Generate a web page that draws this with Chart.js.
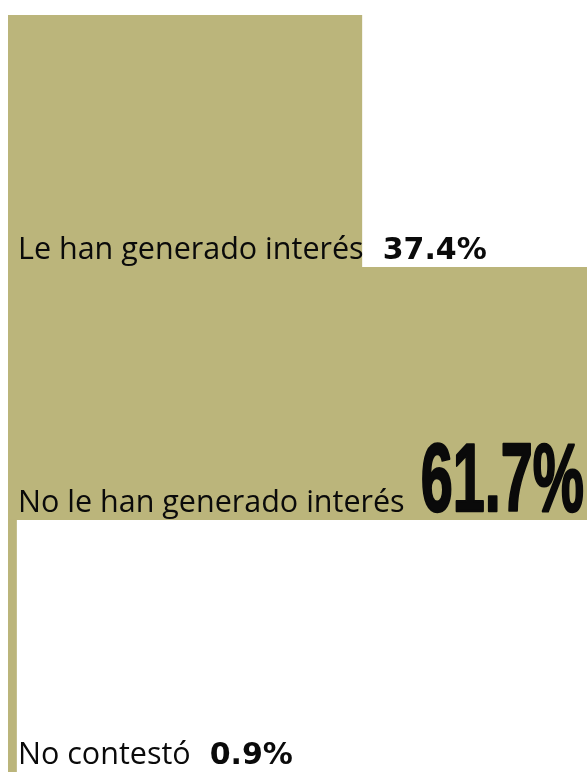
<!DOCTYPE html>
<html>
<head>
<meta charset="utf-8">
<script src="https://cdn.jsdelivr.net/npm/chart.js@4/dist/chart.umd.min.js"></script>
<style>
  html, body { margin: 0; padding: 0; background: #fff; }
  #wrap { width: 587px; height: 772px; }
</style>
</head>
<body>
<div id="wrap"><canvas id="c" width="587" height="772"></canvas></div>
<script>
const categories = ["Le han generado interés", "No le han generado interés", "No contestó"];
const values = [37.4, 61.7, 0.9];
const valueLabels = ["37.4%", "61.7%", "0.9%"];

const OLIVE = "#bbb57b";

const labelPlugin = {
  id: "barLabels",
  afterDatasetsDraw(chart) {
    const ctx = chart.ctx;
    const meta = chart.getDatasetMeta(0);
    const top = Math.max(...values);
    ctx.save();
    ctx.fillStyle = "#0a0a0a";
    ctx.strokeStyle = "#0a0a0a";
    ctx.textBaseline = "alphabetic";
    meta.data.forEach((bar, i) => {
      const bottom = bar.y + bar.height / 2;
      const base = bottom - 8;
      const x0 = chart.chartArea.left + 10;
      ctx.font = "30.5px 'Open Sans'";
      ctx.fillText(categories[i], x0, base);
      const w = ctx.measureText(categories[i]).width;
      const vx = x0 + w + 19;
      if (values[i] === top) {
        ctx.save();
        ctx.translate(vx - 3, base - 1);
        ctx.scale(0.6, 1);
        ctx.font = "bold 96px 'Liberation Sans'";
        ctx.lineWidth = 2.5;
        ctx.lineJoin = "round";
        ctx.fillText(valueLabels[i], 0, 0);
        ctx.strokeText(valueLabels[i], 0, 0);
        ctx.restore();
      } else {
        ctx.font = "bold 30px 'DejaVu Sans'";
        ctx.fillText(valueLabels[i], vx, base);
      }
    });
    ctx.restore();
  },
};

new Chart(document.getElementById("c"), {
  type: "bar",
  data: {
    labels: categories,
    datasets: [
      {
        data: values,
        backgroundColor: OLIVE,
        borderWidth: 0,
        categoryPercentage: 1,
        barPercentage: 1,
      },
    ],
  },
  options: {
    indexAxis: "y",
    responsive: false,
    animation: false,
    layout: { padding: { left: 8, top: 15, right: 0, bottom: 0 } },
    plugins: { legend: { display: false }, tooltip: { enabled: false } },
    scales: {
      x: { display: false, min: 0, max: 61.2 },
      y: { display: false },
    },
  },
  plugins: [labelPlugin],
});
</script>
</body>
</html>
